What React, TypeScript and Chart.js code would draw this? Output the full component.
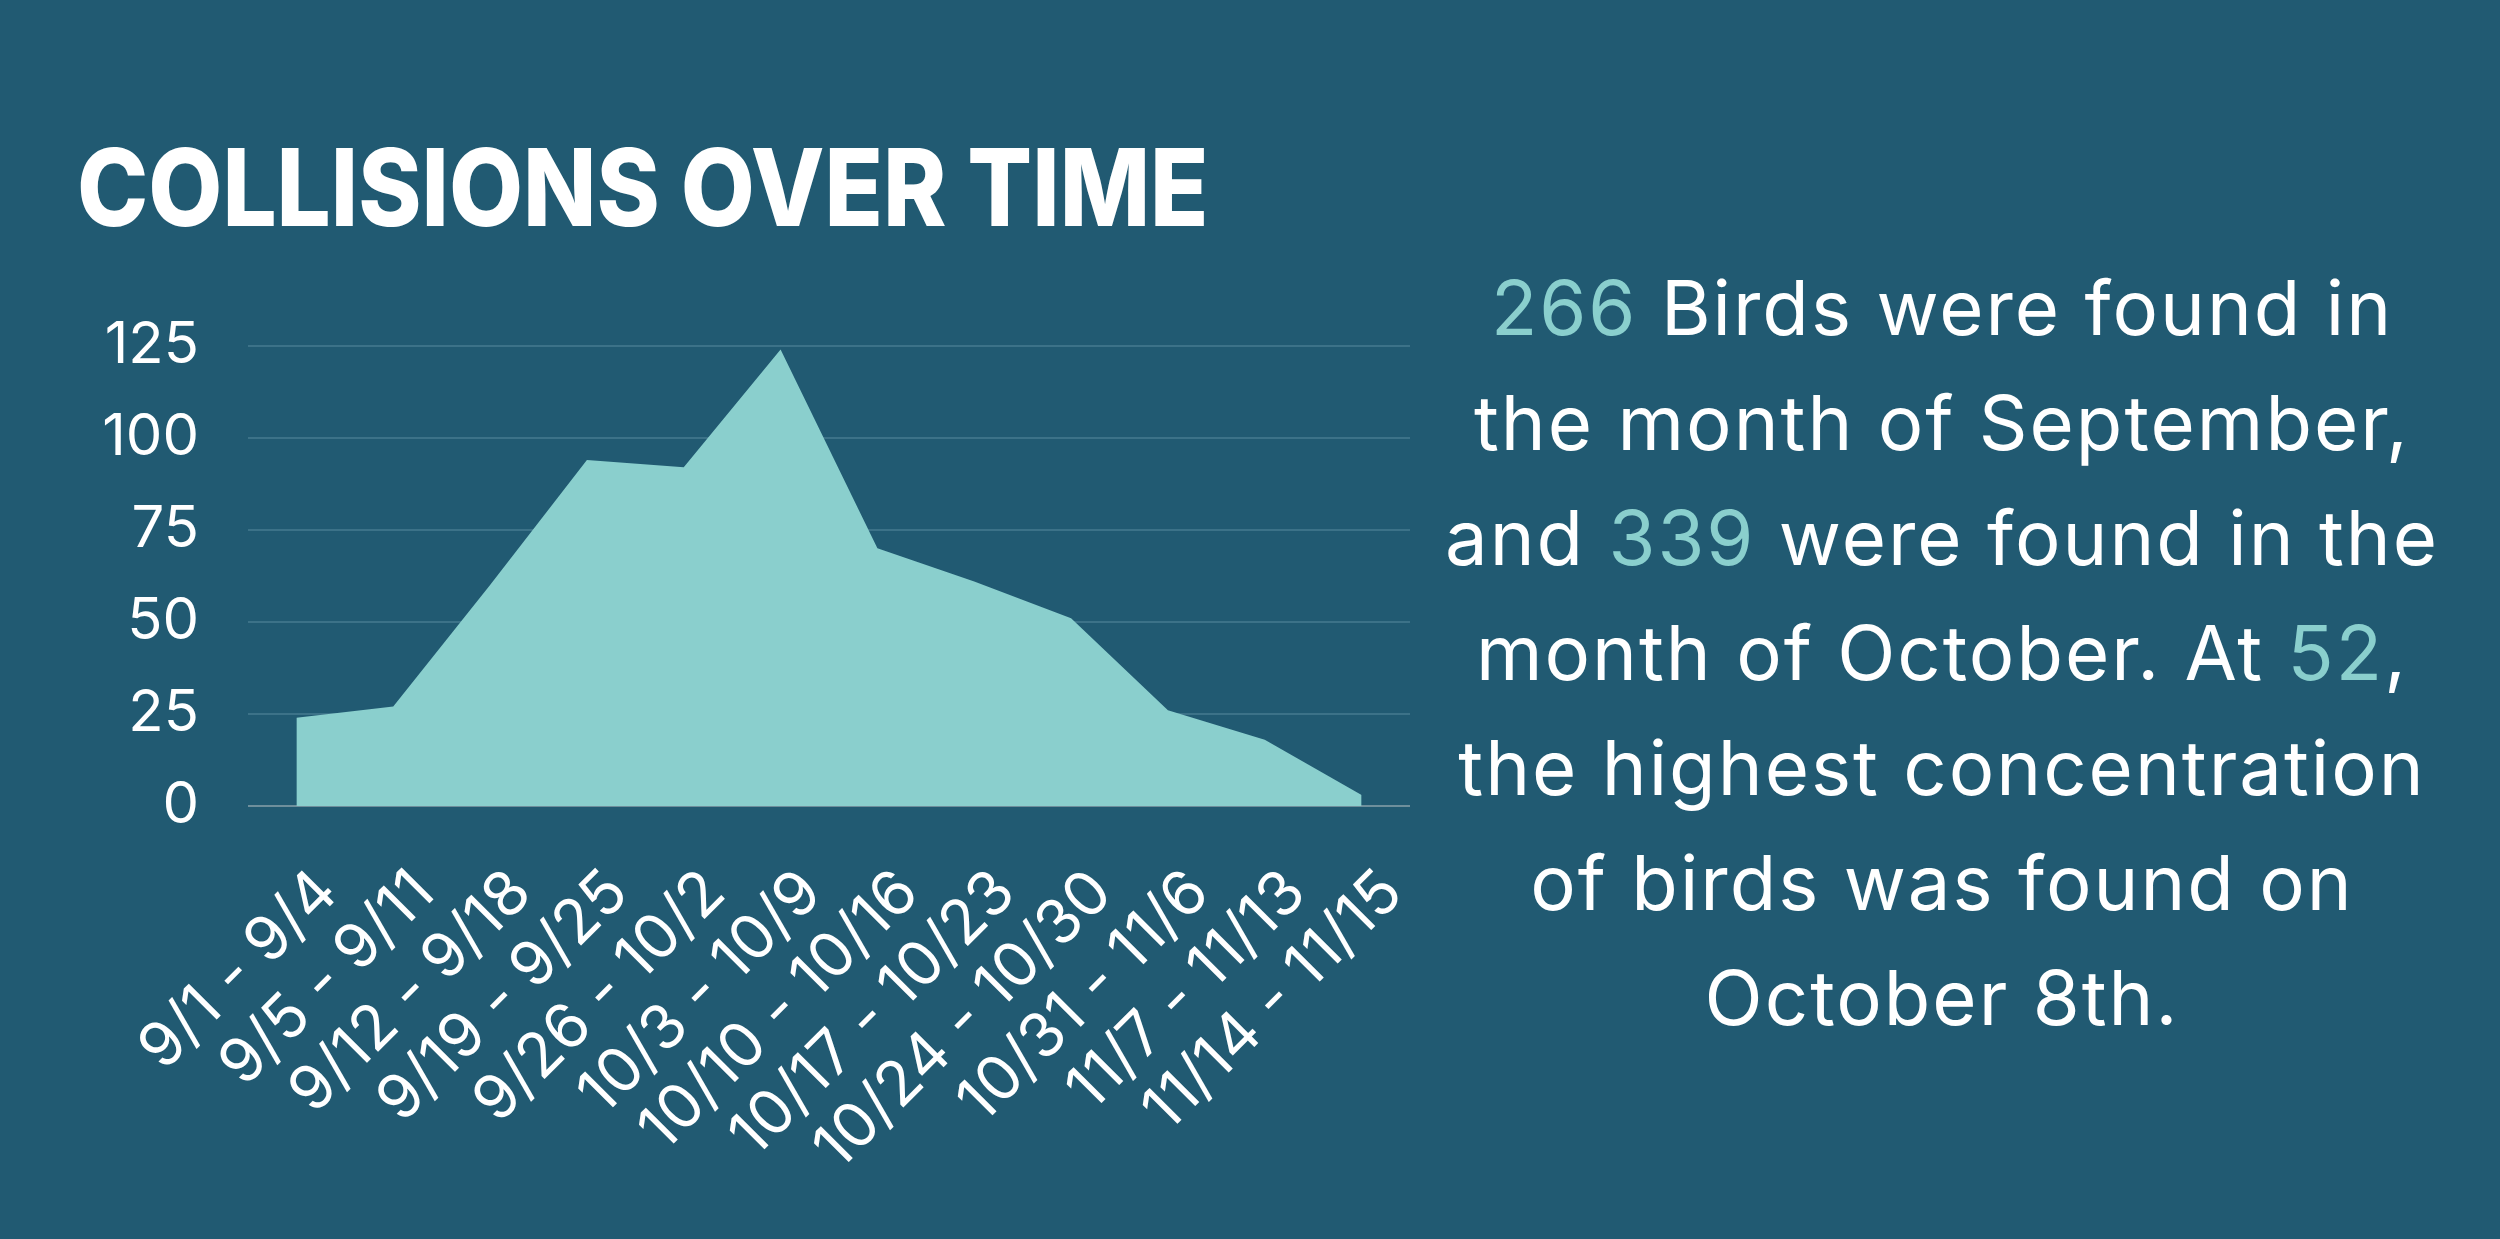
import { Chart, registerables } from "chart.js";
import { useEffect, useRef } from "react";

Chart.register(...registerables);

const weeks = [
  "9/1 - 9/4",
  "9/5 - 9/11",
  "9/12 - 9/18",
  "9/19 - 9/25",
  "9/26 - 10/2",
  "10/3 - 10/9",
  "10/10 - 10/16",
  "10/17 - 10/23",
  "10/24 - 10/30",
  "10/31 - 11/6",
  "11/7 - 11/13",
  "11/14 - 11/15",
];
const collisions = [24, 27, 60, 94, 92, 124, 70, 61, 51, 26, 18, 3];
const yTicks = [0, 25, 50, 75, 100, 125];

const BG = "#215a72";
const TEAL = "#8acfcd";
const FONT = "Inter, 'Open Sans', sans-serif";

function CollisionsChart() {
  const ref = useRef<HTMLCanvasElement>(null);

  useEffect(() => {
    if (!ref.current) return;
    const chart = new Chart(ref.current, {
      type: "line",
      data: {
        labels: weeks,
        datasets: [
          {
            data: collisions,
            fill: "origin",
            backgroundColor: TEAL,
            borderWidth: 0,
            pointRadius: 0,
            tension: 0,
          },
        ],
      },
      options: {
        animation: false,
        responsive: true,
        maintainAspectRatio: false,
        layout: { padding: { top: 45, right: 90, left: 0, bottom: 0 } },
        plugins: { legend: { display: false }, tooltip: { enabled: false } },
        scales: {
          x: {
            offset: true,
            grid: { display: false, drawTicks: false },
            border: { display: false },
            ticks: {
              color: "#ffffff",
              font: { family: FONT, size: 62 },
              minRotation: 45,
              maxRotation: 45,
              padding: 50,
              labelOffset: 31,
              autoSkip: false,
            },
            afterFit: (s: any) => {
              s.height = 433;
              s.paddingLeft = 0;
              s.paddingRight = 0;
            },
          },
          y: {
            min: 0,
            max: yTicks[yTicks.length - 1],
            afterBuildTicks: (s: any) => {
              s.ticks = yTicks.map((v) => ({ value: v }));
            },
            grid: {
              drawTicks: false,
              lineWidth: 2,
              color: (c: any) => (c.tick && c.tick.value === 0 ? "#6e8f9c" : "#3c7288"),
            },
            border: { display: false },
            ticks: {
              color: "#ffffff",
              font: { family: FONT, size: 58 },
              padding: 49,
            },
            afterFit: (s: any) => {
              s.width = 248;
            },
          },
        },
      },
    });
    return () => chart.destroy();
  }, []);

  return (
    <div style={{ position: "absolute", left: 0, top: 262, width: 1500, height: 977 }}>
      <canvas ref={ref} />
    </div>
  );
}

const hl = { color: TEAL };

export default function App() {
  return (
    <div
      style={{
        position: "fixed",
        left: 0,
        top: 0,
        width: 2500,
        height: 1239,
        background: BG,
        overflow: "hidden",
        fontFamily: FONT,
      }}
    >
      <div
        style={{
          position: "absolute",
          left: 77,
          top: 134,
          fontSize: 107,
          lineHeight: "107px",
          fontWeight: 800,
          color: "#ffffff",
          whiteSpace: "nowrap",
          transform: "scaleX(0.896)",
          transformOrigin: "left top",
        }}
      >
        COLLISIONS OVER TIME
      </div>
      <CollisionsChart />
      <div
        style={{
          position: "absolute",
          left: 1342,
          top: 250,
          width: 1200,
          textAlign: "center",
          fontSize: 76,
          letterSpacing: "2px",
          lineHeight: "115px",
          color: "#ffffff",
          whiteSpace: "nowrap",
        }}
      >
        <span style={hl}>266</span> Birds were found in
        <br />
        the month of September,
        <br />
        and <span style={hl}>339</span> were found in the
        <br />
        month of October. At <span style={hl}>52</span>,
        <br />
        the highest concentration
        <br />
        of birds was found on
        <br />
        October 8th.
      </div>
    </div>
  );
}
